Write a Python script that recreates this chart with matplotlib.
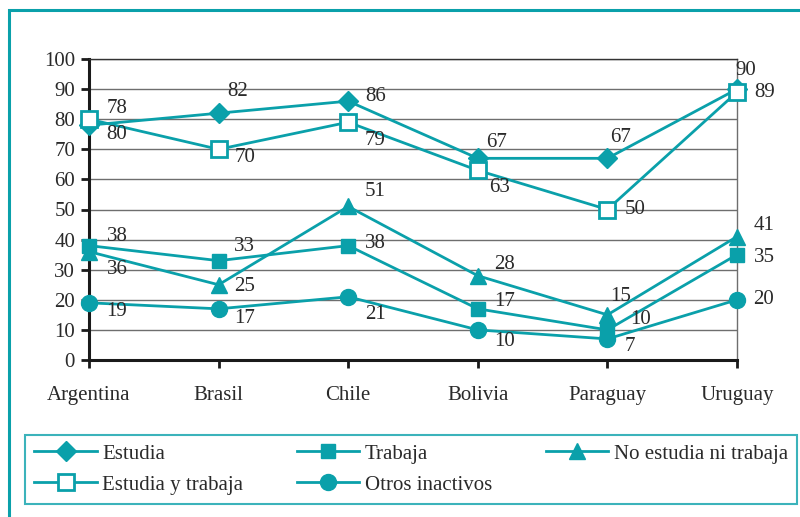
import matplotlib

matplotlib.use("Agg")

import matplotlib.pyplot as plt
from matplotlib.patches import Rectangle

TEAL = "#0AA0AA"
TEXT = "#2a2a2a"
GRID = "#6e6e6e"

countries = ["Argentina", "Brasil", "Chile", "Bolivia", "Paraguay", "Uruguay"]

estudia = [78, 82, 86, 67, 67, 90]
trabaja = [38, 33, 38, 17, 10, 35]
no_estudia_ni_trabaja = [36, 25, 51, 28, 15, 41]
estudia_y_trabaja = [80, 70, 79, 63, 50, 89]
otros_inactivos = [19, 17, 21, 10, 7, 20]

y_ticks = list(range(0, 101, 10))

# label offsets in pixels (dx right, dy down), one per point
offsets = {
    "Estudia": [(28, -17), (19, -22), (27, -5), (19, -16), (13, -21), (9, -19)],
    "Trabaja": [(28, -9), (26, -14), (27, -2), (27, -7), (33, -10), (27, 3)],
    "No estudia ni trabaja": [(28, 18), (26, 2), (27, -15), (27, -11), (13, -18), (27, -11)],
    "Estudia y trabaja": [(28, 15), (26, 8), (27, 18), (22, 17), (28, 0), (28, 0)],
    "Otros inactivos": [(28, 9), (26, 10), (27, 18), (27, 12), (22, 8), (26, 0)],
}

FS = 15

plt.rcParams["font.family"] = ["Liberation Serif", "DejaVu Serif"]

fig = plt.figure(figsize=(8.0, 5.17), dpi=100, facecolor="white")
ax = fig.add_axes([89 / 800, 1 - 360 / 517, 648 / 800, 301 / 517])

x = list(range(len(countries)))
series = [
    ("Estudia", estudia, dict(marker="D", ms=10, mfc=TEAL, mec=TEAL)),
    ("No estudia ni trabaja", no_estudia_ni_trabaja, dict(marker="^", ms=12, mfc=TEAL, mec=TEAL)),
    ("Trabaja", trabaja, dict(marker="s", ms=10.5, mfc=TEAL, mec=TEAL)),
    ("Estudia y trabaja", estudia_y_trabaja, dict(marker="s", ms=12, mfc="white", mec=TEAL, mew=2)),
    ("Otros inactivos", otros_inactivos, dict(marker="o", ms=11.5, mfc=TEAL, mec=TEAL)),
]

handles = {}
for z, (name, values, style) in enumerate(series):
    (line,) = ax.plot(x, values, color=TEAL, linewidth=2, label=name, zorder=3 + z, clip_on=False, **style)
    handles[name] = line
    for i, v in enumerate(values):
        dx, dy = offsets[name][i]
        ax.annotate(str(v), (i, v), xytext=(dx * 0.72, -dy * 0.72), textcoords="offset points",
                    ha="center", va="center", fontsize=FS, color=TEXT, zorder=10)

ax.set_xlim(0, len(countries) - 1)
ax.set_ylim(0, 100)
ax.set_yticks(y_ticks)
ax.set_xticks(x)
ax.set_xticklabels(countries)
ax.grid(axis="y", color=GRID, linewidth=1)
ax.set_axisbelow(True)
ax.spines[["left", "bottom"]].set_linewidth(2.2)
ax.spines[["left", "bottom"]].set_color("#1a1a1a")
ax.spines["top"].set_color("#333333")
ax.spines["right"].set_color(GRID)
ax.spines[["top", "right"]].set_linewidth(1)
ax.tick_params(axis="both", direction="out", length=6, width=2, color="#1a1a1a", labelsize=FS, labelcolor=TEXT)
ax.tick_params(axis="x", pad=13)
ax.tick_params(axis="y", pad=4)

order = ["Estudia", "Estudia y trabaja", "Trabaja", "Otros inactivos", "No estudia ni trabaja"]
leg = fig.legend([handles[n] for n in order], order, ncol=3, mode="expand", loc="lower left",
                 bbox_to_anchor=(25 / 800, 1 - 504 / 517, 772 / 800, 71 / 517),
                 frameon=True, fancybox=False, edgecolor=TEAL, fontsize=FS, handlelength=3.0,
                 handletextpad=0.25, borderpad=0.45, labelspacing=0.55, borderaxespad=0)
leg.get_frame().set_linewidth(1.5)
for t in leg.get_texts():
    t.set_color(TEXT)

fig.patches.append(Rectangle((9 / 800, -0.1), 1.2, 1.1 - 10 / 517, transform=fig.transFigure,
                             fill=False, edgecolor=TEAL, linewidth=2.2))

fig.savefig("out.png", dpi=100, facecolor="white")
